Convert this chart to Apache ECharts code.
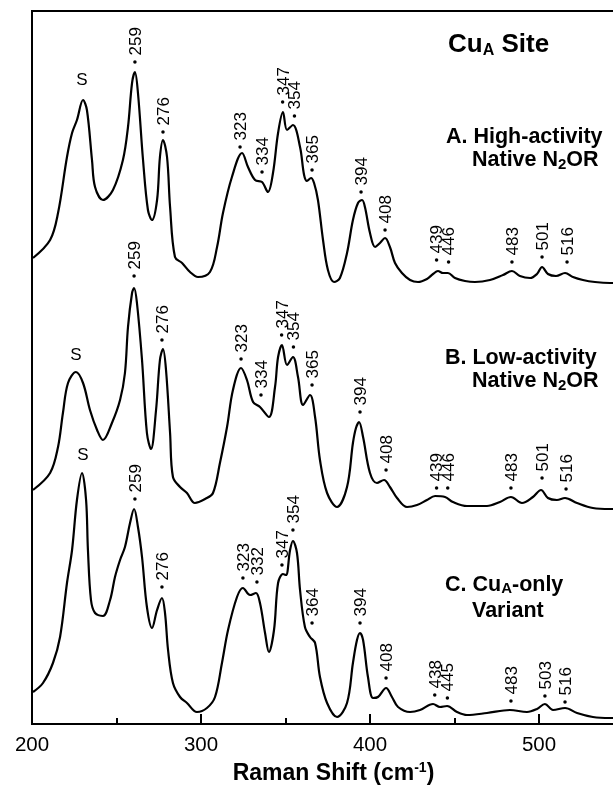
<!DOCTYPE html>
<html><head><meta charset="utf-8">
<script src="https://cdn.jsdelivr.net/npm/echarts@6/dist/echarts.min.js"></script>
<style>html,body{margin:0;padding:0;background:#fff}#c{width:613px;height:792px}</style>
</head><body><div id="c"></div>
<script>
// ---- data (x: Raman shift cm-1, y: stacked intensity, arbitrary units) ----
const xTicks = [200, 300, 400, 500];

const traceA = [[200.6,466],[210.7,484],[215.4,511],[220.7,567],[223.7,591],[226.6,604],[230.2,624],[232.5,614],[235.5,564],[237.3,537],[242.0,524],[247.9,534],[253.8,564],[256.8,597],[259.2,641],[260.9,652],[262.7,631],[265.7,564],[268.6,514],[271.0,504],[274.0,524],[275.7,567],[277.5,584],[279.9,567],[281.7,517],[284.6,467],[288.8,461],[293.5,452],[298.2,447],[305.3,452],[309.5,477],[313.0,511],[318.3,547],[324.3,571],[327.8,557],[332.0,544],[336.1,542],[339.6,532],[342.6,551],[345.6,591],[348.5,612],[350.9,594],[354.4,599],[358.6,577],[361.0,549],[362.7,543],[365.1,546],[366.9,541],[369.2,524],[372.2,484],[375.1,454],[378.7,442],[382.2,446],[386.4,471],[389.9,504],[392.9,521],[395.3,524],[397.0,517],[400.0,491],[403.0,477],[405.9,481],[408.9,486],[411.8,477],[414.8,461],[418.9,451],[423.7,444],[428.4,442],[433.7,445],[437.3,450],[440.2,453],[443.2,451],[446.1,451],[450.3,446],[456.2,443],[462.1,442],[471.0,444],[478.7,449],[484.0,453],[488.7,448],[494.7,446],[498.8,450],[501.8,457],[505.3,450],[510.1,448],[515.4,451],[520.1,447],[526.0,444],[533.1,442],[542.0,441],[545.0,441]];

const traceB = [[200.6,234],[210.7,251],[215.4,277],[218.3,311],[221.3,341],[226.0,352],[230.2,341],[234.3,314],[238.5,294],[242.0,284],[247.3,301],[252.1,324],[255.0,351],[256.8,397],[259.2,431],[260.4,436],[262.1,421],[265.1,364],[268.0,291],[270.4,275],[273.4,314],[275.7,364],[277.5,375],[279.3,354],[281.7,291],[283.4,247],[287.6,237],[291.7,231],[296.4,221],[302.4,225],[307.1,231],[311.2,261],[315.4,297],[318.9,334],[323.7,356],[327.2,344],[330.8,322],[334.9,317],[340.2,307],[343.8,337],[345.6,367],[347.9,379],[350.9,359],[354.4,367],[357.4,347],[360.4,319],[364.5,329],[367.5,307],[370.4,264],[374.6,231],[380.5,217],[386.4,237],[389.9,281],[391.7,296],[393.5,302],[395.9,287],[400.0,251],[404.1,241],[408.3,244],[411.8,237],[416.0,226],[421.9,217],[427.8,219],[433.7,224],[438.5,228],[444.4,227],[449.1,222],[457.4,218],[469.2,218],[476.9,222],[483.4,227],[489.9,221],[496.4,227],[501.2,234],[505.3,226],[510.6,224],[515.4,226],[522.5,221],[531.9,216],[542.0,215],[545.0,215]];

const traceC = [[200.6,32],[206.5,41],[212.4,61],[216.6,87],[220.7,141],[223.7,174],[226.6,224],[229.6,251],[232.0,224],[233.1,174],[234.9,124],[237.3,111],[242.0,108],[246.2,124],[249.1,147],[252.1,164],[255.0,177],[258.0,201],[260.4,215],[262.7,197],[265.1,167],[268.0,117],[271.0,96],[274.0,114],[276.9,126],[278.7,111],[280.5,74],[283.4,41],[287.6,27],[291.7,21],[297.6,12],[303.5,16],[308.3,27],[312.4,61],[316.0,94],[321.3,127],[324.8,136],[329.0,129],[332.5,131],[334.9,121],[337.9,91],[340.2,72],[343.2,94],[345.6,141],[348.5,150],[350.3,149],[352.7,174],[354.4,183],[356.8,171],[358.6,134],[361.5,97],[364.5,87],[367.5,81],[370.4,47],[374.6,21],[380.5,7],[386.4,21],[389.9,61],[392.3,84],[394.1,91],[395.9,84],[398.8,47],[401.8,26],[404.7,27],[409.5,36],[413.0,27],[416.6,17],[423.7,12],[429.6,14],[437.3,20],[441.4,17],[445.6,18],[451.5,12],[457.4,9],[469.2,11],[482.8,14],[492.9,12],[498.8,15],[503.5,20],[508.3,14],[515.4,16],[522.5,11],[531.9,7],[542.0,6],[545.0,6]];

// peak markers: [x, y of dot, label]
const peaksA = [[260.9,662,'259'],[277.5,592,'276'],[323.1,577,'323'],[336.1,552,'334'],[348.3,622,'347'],[355.3,608,'354'],[365.7,554,'365'],[394.7,532,'394'],[408.9,494,'408'],[439.4,464,'439'],[446.5,462,'446'],[484.0,462,'483'],[501.8,467,'501'],[516.6,462,'516']];
const peaksB = [[260.4,448,'259'],[276.9,384,'276'],[323.7,365,'323'],[335.5,329,'334'],[347.7,389,'347'],[354.7,377,'354'],[365.7,339,'365'],[394.1,312,'394'],[409.5,254,'408'],[439.4,236,'439'],[446.0,236,'446'],[483.4,236,'483'],[501.8,246,'501'],[516.0,235,'516']];
const peaksC = [[260.9,225,'259'],[276.9,137,'276'],[324.8,146,'323'],[333.1,142,'332'],[347.9,159,'347'],[354.4,194,'354'],[365.7,101,'364'],[394.1,101,'394'],[409.5,46,'408'],[438.3,29,'438'],[445.8,26,'445'],[483.4,23,'483'],[503.5,28,'503'],[515.4,22,'516']];
// solvent band labels: [x, y, text]
const solventLabels = [[229.6,644,'S'],[226.0,369,'S'],[230.2,269,'S']];

const siteTitle = ['Cu','A',' Site'];
const traceTitles = [
  [['A. High-activity'], ['Native N','2','OR']],
  [['B. Low-activity'], ['Native N','2','OR']],
  [['C. Cu','A','-only'], ['Variant']]
];
const axisTitle = ['Raman Shift (cm', '-1', ')'];

// ---- chart ----
const F = "'Liberation Sans', Arial, Helvetica, sans-serif";
const chart = echarts.init(document.getElementById('c'), null, {renderer: 'canvas'});

function lineSeries(d) {
  return {type: 'line', data: d, showSymbol: false, smooth: 0.35, silent: true,
    lineStyle: {color: '#000', width: 2.2}, z: 3};
}
function peakSeries(d) {
  return {type: 'scatter', data: d, symbol: 'circle', symbolSize: 3.5, silent: true,
    itemStyle: {color: '#000', opacity: 1}, z: 5,
    label: {show: true, formatter: p => p.value[2], position: 'inside', rotate: 90,
      align: 'left', verticalAlign: 'middle', offset: [6.5, 1.2],
      fontSize: 17, fontFamily: F, color: '#000', opacity: 1}};
}
function richLine(parts) {
  let s = '';
  parts.forEach((p, i) => { s += (i % 2 === 0 ? '{b|' : '{s|') + p + '}'; });
  return s;
}
function textEl(x, y, parts, fs, sfs) {
  return {type: 'text', x: x, y: y, silent: true, z: 10,
    style: {text: richLine(parts), align: 'left', verticalAlign: 'middle',
      rich: {
        b: {fontSize: fs, fontWeight: 'bold', fontFamily: F, fill: '#000', lineHeight: fs + 2, verticalAlign: 'middle'},
        s: {fontSize: sfs, fontWeight: 'bold', fontFamily: F, fill: '#000', lineHeight: 8, verticalAlign: 'bottom'}
      }}};
}

const blocks = [[446, 137.5, 472, 160.5], [445, 358.5, 472, 381.5], [445, 585, 472, 611.5]];
const graphics = [textEl(448, 45, siteTitle, 26, 16)];
traceTitles.forEach((t, i) => {
  const b = blocks[i];
  graphics.push(textEl(b[0], b[1], t[0], 21.5, 15));
  graphics.push(textEl(b[2], b[3], t[1], 21.5, 15));
});

chart.setOption({
  animation: false,
  backgroundColor: '#fff',
  grid: {left: 32, top: 11, width: 676, bottom: 68, containLabel: false, outerBoundsMode: 'none',
    show: true, borderColor: '#000', borderWidth: 2, backgroundColor: 'transparent'},
  xAxis: {
    type: 'value', min: 200, max: 600, interval: 100,
    axisLine: {show: true, lineStyle: {color: '#000', width: 2}},
    axisTick: {show: true, inside: true, length: 10, lineStyle: {color: '#000', width: 2}},
    minorTick: {show: true, splitNumber: 2, length: 6, lineStyle: {color: '#000', width: 2}},
    splitLine: {show: false},
    axisLabel: {show: true, margin: 11, fontSize: 20.5, fontFamily: F, color: '#000',
      formatter: v => (xTicks.indexOf(v) >= 0 ? String(v) : '')},
    name: '{b|' + axisTitle[0] + '}{s|' + axisTitle[1] + '}{b|' + axisTitle[2] + '}',
    nameLocation: 'middle', nameGap: 26,
    nameTextStyle: {padding: [0, 73, 0, 0],
      rich: {
        b: {fontSize: 23, fontWeight: 'bold', fontFamily: F, color: '#000', lineHeight: 26, verticalAlign: 'middle'},
        s: {fontSize: 14, fontWeight: 'bold', fontFamily: F, color: '#000', lineHeight: 16, verticalAlign: 'top'}
      }}
  },
  yAxis: {
    type: 'value', min: 0, max: 713,
    axisLine: {show: true, lineStyle: {color: '#000', width: 2}},
    axisTick: {show: false}, axisLabel: {show: false}, splitLine: {show: false}
  },
  series: [
    lineSeries(traceA), lineSeries(traceB), lineSeries(traceC),
    peakSeries(peaksA), peakSeries(peaksB), peakSeries(peaksC),
    {type: 'scatter', data: solventLabels, symbolSize: 0, silent: true, z: 5,
      itemStyle: {opacity: 1},
      label: {show: true, formatter: p => p.value[2], position: 'inside',
        fontSize: 17, fontFamily: F, color: '#000', opacity: 1}}
  ],
  graphic: graphics
});
</script></body></html>
